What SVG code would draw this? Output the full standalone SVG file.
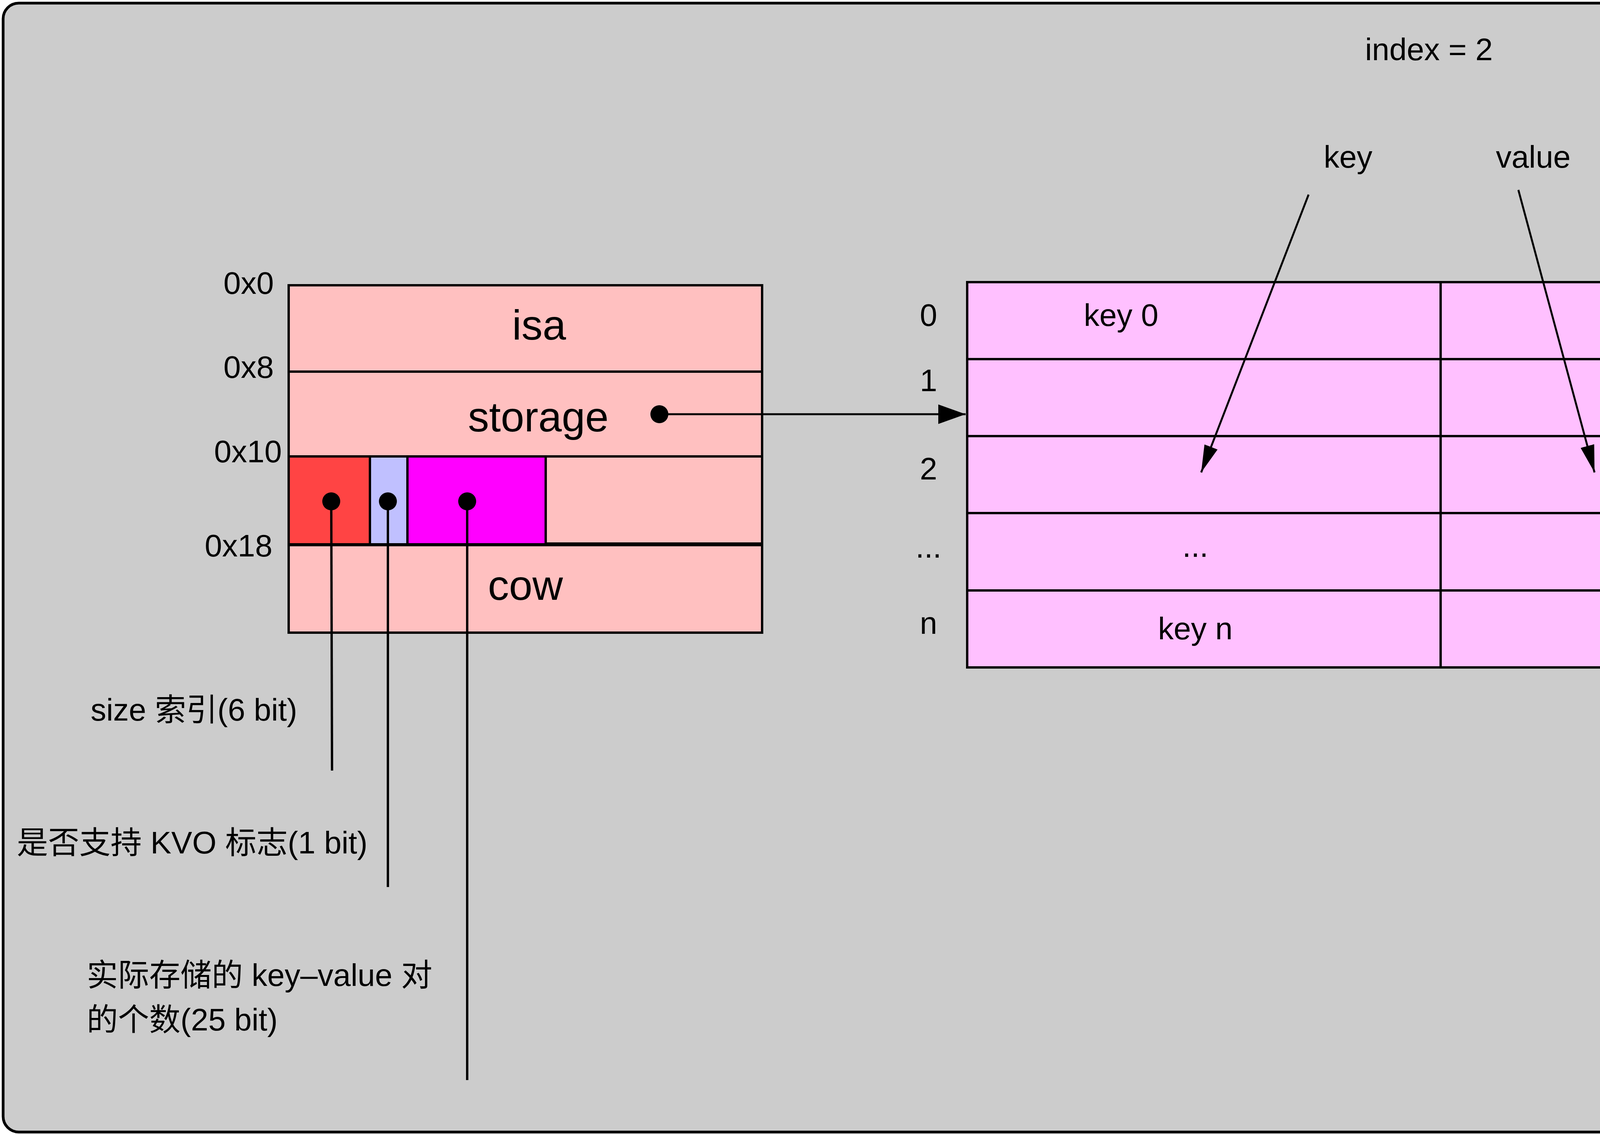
<svg xmlns="http://www.w3.org/2000/svg" width="5173" height="2902" viewBox="0 0 5173 2902">
<style>
text{font-family:"Liberation Sans","Noto Sans CJK SC",Arial,sans-serif;fill:#000}
.t80{font-size:80px}
.t108{font-size:108px}
.mid{text-anchor:middle}
.cell{stroke:#000;stroke-width:6}
.line{stroke:#000;stroke-width:5;fill:none}
.pin{stroke:#000;stroke-width:6;fill:none}
</style>
<defs>
<marker id="arrowA" viewBox="0 0 70 50" refX="70" refY="25" markerWidth="70" markerHeight="50" markerUnits="userSpaceOnUse" orient="auto"><path d="M0,0 L70,25 L0,50 z" fill="#000"/></marker>
<marker id="arrowB" viewBox="0 0 70 36" refX="70" refY="18" markerWidth="70" markerHeight="36" markerUnits="userSpaceOnUse" orient="auto"><path d="M0,0 L70,18 L0,36 z" fill="#000"/></marker>
</defs>
<g id="frame"><rect x="8" y="8" width="5155" height="2889" rx="40" ry="40" fill="#CCCCCC" stroke="#000" stroke-width="7"/></g>
<g id="struct">
<rect class="cell" x="739" y="730" width="1212" height="221" fill="#FFC0C0"/>
<rect class="cell" x="739" y="951" width="1212" height="217" fill="#FFC0C0"/>
<rect class="cell" x="739" y="1168" width="1212" height="225" fill="#FFC0C0"/>
<rect class="cell" x="739" y="1393" width="1212" height="226" fill="#FFC0C0"/>
<line x1="739" y1="1393" x2="1951" y2="1393" stroke="#000" stroke-width="10"/>
<text class="t108 mid" x="1380" y="869">isa</text>
<text class="t108 mid" x="1378" y="1104">storage</text>
<text class="t108 mid" x="1345" y="1535">cow</text>
</g>
<g id="bit-size"><rect class="cell" x="739" y="1168" width="208" height="225" fill="#FF4444"/></g>
<g id="bit-kvo"><rect class="cell" x="947" y="1168" width="96" height="225" fill="#C0C0FF"/></g>
<g id="bit-count"><rect class="cell" x="1043" y="1168" width="354" height="225" fill="#FF00FF"/></g>
<g id="offsets">
<text class="t80" x="572" y="752">0x0</text>
<text class="t80" x="572" y="967">0x8</text>
<text class="t80" x="548" y="1183">0x10</text>
<text class="t80" x="524" y="1424">0x18</text>
</g>
<g id="table">
<rect class="cell" x="2476" y="722" width="1212" height="197" fill="#FFC0FF"/>
<rect class="cell" x="3688" y="722" width="1209" height="197" fill="#FFC0FF"/>
<rect class="cell" x="2476" y="919" width="1212" height="197" fill="#FFC0FF"/>
<rect class="cell" x="3688" y="919" width="1209" height="197" fill="#FFC0FF"/>
<rect class="cell" x="2476" y="1116" width="1212" height="197" fill="#FFC0FF"/>
<rect class="cell" x="3688" y="1116" width="1209" height="197" fill="#FFC0FF"/>
<rect class="cell" x="2476" y="1313" width="1212" height="198" fill="#FFC0FF"/>
<rect class="cell" x="3688" y="1313" width="1209" height="198" fill="#FFC0FF"/>
<rect class="cell" x="2476" y="1511" width="1212" height="197" fill="#FFC0FF"/>
<rect class="cell" x="3688" y="1511" width="1209" height="197" fill="#FFC0FF"/>
<text class="t80 mid" x="2870" y="834">key 0</text>
<text class="t80 mid" x="4342" y="846">value 0</text>
<text class="t80 mid" x="3060" y="1425">...</text>
<text class="t80 mid" x="3060" y="1636">key n</text>
<text class="t80 mid" x="4291" y="1636">value n</text>
</g>
<g id="row-labels">
<text class="t80 mid" x="2377" y="834">0</text>
<text class="t80 mid" x="2377" y="1001">1</text>
<text class="t80 mid" x="2377" y="1227">2</text>
<text class="t80 mid" x="2377" y="1427">...</text>
<text class="t80 mid" x="2377" y="1622">n</text>
</g>
<g id="labels">
<text class="t80 mid" x="3658" y="154">index = 2</text>
<text class="t80 mid" x="3451" y="429">key</text>
<text class="t80 mid" x="3925" y="429">value</text>
<text class="t80" x="232" y="1844">size 索引(6 bit)</text>
<text class="t80" x="43" y="2184">是否支持 KVO 标志(1 bit)</text>
<text class="t80" x="222" y="2523">实际存储的 key–value 对</text>
<text class="t80" x="222" y="2637">的个数(25 bit)</text>
</g>
<g id="connectors">
<line class="line" x1="1688" y1="1060" x2="2472" y2="1060" marker-end="url(#arrowA)"/>
<line class="line" x1="3350" y1="498" x2="3075" y2="1209" marker-end="url(#arrowB)"/>
<line class="line" x1="3887" y1="486" x2="4082" y2="1209" marker-end="url(#arrowB)"/>
<line class="pin" x1="848" y1="1283" x2="850" y2="1972"/>
<line class="pin" x1="993" y1="1283" x2="993" y2="2270"/>
<line class="pin" x1="1196" y1="1283" x2="1196" y2="2764"/>
<circle cx="848" cy="1283" r="23" fill="#000"/>
<circle cx="993" cy="1283" r="23" fill="#000"/>
<circle cx="1196" cy="1283" r="23" fill="#000"/>
<circle cx="1688" cy="1060" r="23" fill="#000"/>
</g>
</svg>
